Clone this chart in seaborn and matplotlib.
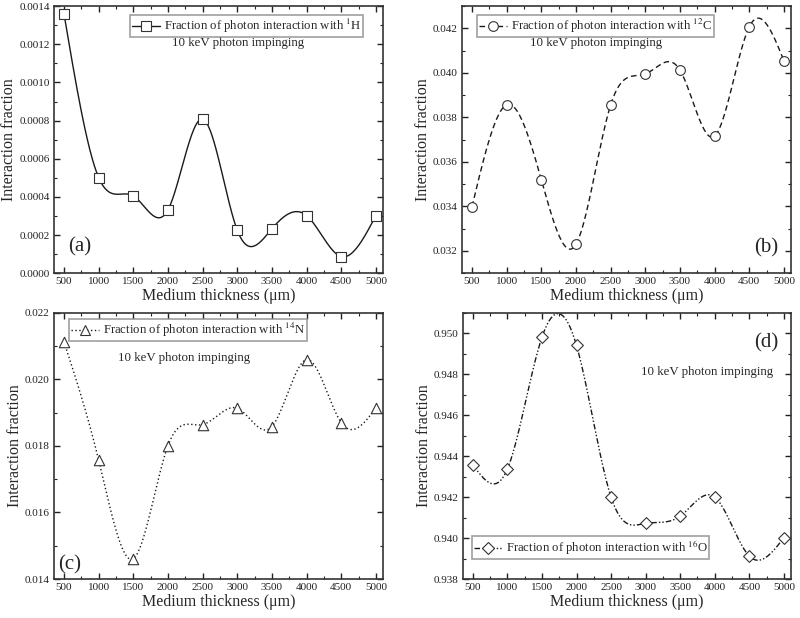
import numpy as np
import pandas as pd
import seaborn as sns
import matplotlib
matplotlib.use("Agg")
import matplotlib.pyplot as plt
from matplotlib.lines import Line2D
from matplotlib.ticker import MultipleLocator, FormatStrFormatter

# ---- data ----
thickness = [500, 1000, 1500, 2000, 2500, 3000, 3500, 4000, 4500, 5000]
frac_H = [0.001358, 0.000501, 0.000405, 0.000332, 0.000808, 0.000225, 0.000233, 0.000302, 0.000087, 0.000302]
frac_C = [0.03399, 0.03857, 0.03520, 0.03230, 0.03856, 0.03995, 0.04013, 0.03716, 0.04207, 0.04055]
frac_N = [0.02112, 0.01757, 0.01461, 0.01801, 0.01864, 0.01913, 0.01858, 0.02059, 0.01870, 0.01914]
frac_O = [0.94358, 0.94337, 0.94980, 0.94940, 0.94200, 0.94072, 0.94107, 0.94200, 0.93912, 0.94002]

labels = [r"Fraction of photon interaction with $^{1}$H",
          r"Fraction of photon interaction with $^{12}$C",
          r"Fraction of photon interaction with $^{14}$N",
          r"Fraction of photon interaction with $^{16}$O"]
panel_tags = ["(a)", "(b)", "(c)", "(d)"]
note_text = "10 keV photon impinging"
xlabel = "Medium thickness (\u03bcm)"
ylabel = "Interaction fraction"

sns.set_theme(style="ticks")
plt.rcParams["font.family"] = ["Liberation Serif", "DejaVu Serif"]
plt.rcParams["mathtext.fontset"] = "stix"


def natural_spline(x, y, n=600):
    x = np.asarray(x, float); y = np.asarray(y, float)
    N = len(x); h = np.diff(x)
    A = np.zeros((N, N)); r = np.zeros(N)
    A[0, 0] = 1; A[-1, -1] = 1
    for i in range(1, N - 1):
        A[i, i - 1] = h[i - 1]; A[i, i] = 2 * (h[i - 1] + h[i]); A[i, i + 1] = h[i]
        r[i] = 6 * ((y[i + 1] - y[i]) / h[i] - (y[i] - y[i - 1]) / h[i - 1])
    M = np.linalg.solve(A, r)
    xs = np.linspace(x[0], x[-1], n)
    idx = np.clip(np.searchsorted(x, xs) - 1, 0, N - 2)
    x0 = x[idx]; x1 = x[idx + 1]; hh = x1 - x0
    a = (x1 - xs) / hh; b = (xs - x0) / hh
    ys = a * y[idx] + b * y[idx + 1] + ((a ** 3 - a) * M[idx] + (b ** 3 - b) * M[idx + 1]) * hh ** 2 / 6
    return xs, ys


fig = plt.figure(figsize=(8.0, 6.18), dpi=100)
boxes = [(0.0675, 0.558, 0.411, 0.432),
         (0.5775, 0.558, 0.411, 0.432),
         (0.0675, 0.063, 0.411, 0.431),
         (0.5785, 0.063, 0.410, 0.431)]
series = [frac_H, frac_C, frac_N, frac_O]
styles = ["-", (0, (4, 2.5)), (0, (1, 1.8)), (0, (4, 1.5, 1, 1.5, 1, 1.5))]
markers = ["s", "o", "^", "D"]
msizes = [6.5, 7, 7.5, 6]
ylims = [(0, 0.0014), (0.031, 0.043), (0.014, 0.022), (0.938, 0.951)]
ymaj = [0.0002, 0.002, 0.002, 0.002]
yfmt = ["%.4f", "%.3f", "%.3f", "%.3f"]
leg_loc = [("upper right", (0.94, 0.966)), ("upper left", (0.046, 0.966)),
           ("upper left", (0.046, 0.975)), ("lower left", (0.027, 0.075))]
note_pos = [(0.56, 0.861), (0.407, 0.861), (0.395, 0.83), (0.744, 0.778)]
tag_pos = [(0.043, 0.097, "left"), (0.962, 0.094, "right"), (0.013, 0.053, "left"), (0.963, 0.887, "right")]

for k in range(4):
    ax = fig.add_axes(boxes[k])
    xs, ys = natural_spline(thickness, series[k])
    sns.lineplot(x=xs, y=ys, ax=ax, color="#1a1a1a", lw=1.0, linestyle=styles[k],
                 estimator=None, sort=False, legend=False)
    df = pd.DataFrame({"x": thickness, "y": series[k]})
    sns.scatterplot(data=df, x="x", y="y", ax=ax, marker=markers[k], s=msizes[k] ** 2,
                    facecolor="white", edgecolor="#333333", linewidth=0.8, zorder=3, legend=False)
    ax.set_xlim(355, 5100)
    ax.set_ylim(*ylims[k])
    ax.xaxis.set_major_locator(MultipleLocator(500))
    ax.xaxis.set_minor_locator(MultipleLocator(250))
    ax.yaxis.set_major_locator(MultipleLocator(ymaj[k]))
    ax.yaxis.set_minor_locator(MultipleLocator(ymaj[k] / 2))
    ax.yaxis.set_major_formatter(FormatStrFormatter(yfmt[k]))
    ax.tick_params(which="both", direction="in", top=True, right=True, labelsize=8, colors="#222222")
    ax.tick_params(which="major", length=4.5, width=1.0, pad=3)
    ax.tick_params(which="minor", length=2.5, width=0.8)
    for sp in ax.spines.values():
        sp.set_linewidth(1.2); sp.set_color("#333333")
    ax.set_xlabel(xlabel, fontsize=11.5, labelpad=1)
    ax.set_ylabel(ylabel, fontsize=11.5, labelpad=1.5)
    h = Line2D([], [], color="#1a1a1a", lw=1.0, linestyle=styles[k], marker=markers[k],
               markersize=msizes[k], markerfacecolor="white", markeredgecolor="#333333", markeredgewidth=0.8)
    leg = ax.legend([h], [labels[k]], loc=leg_loc[k][0], bbox_to_anchor=leg_loc[k][1],
                    fontsize=9.2, frameon=True, fancybox=False, handlelength=2.2,
                    borderpad=0.15, handletextpad=0.3, borderaxespad=0)
    leg.get_frame().set_edgecolor("#888888"); leg.get_frame().set_linewidth(1.2)
    ax.text(note_pos[k][0], note_pos[k][1], note_text, transform=ax.transAxes,
            ha="center", va="center", fontsize=9.3)
    ax.text(tag_pos[k][0], tag_pos[k][1], panel_tags[k], transform=ax.transAxes,
            ha=tag_pos[k][2], va="center", fontsize=15)

fig.savefig("out.png", dpi=100)
